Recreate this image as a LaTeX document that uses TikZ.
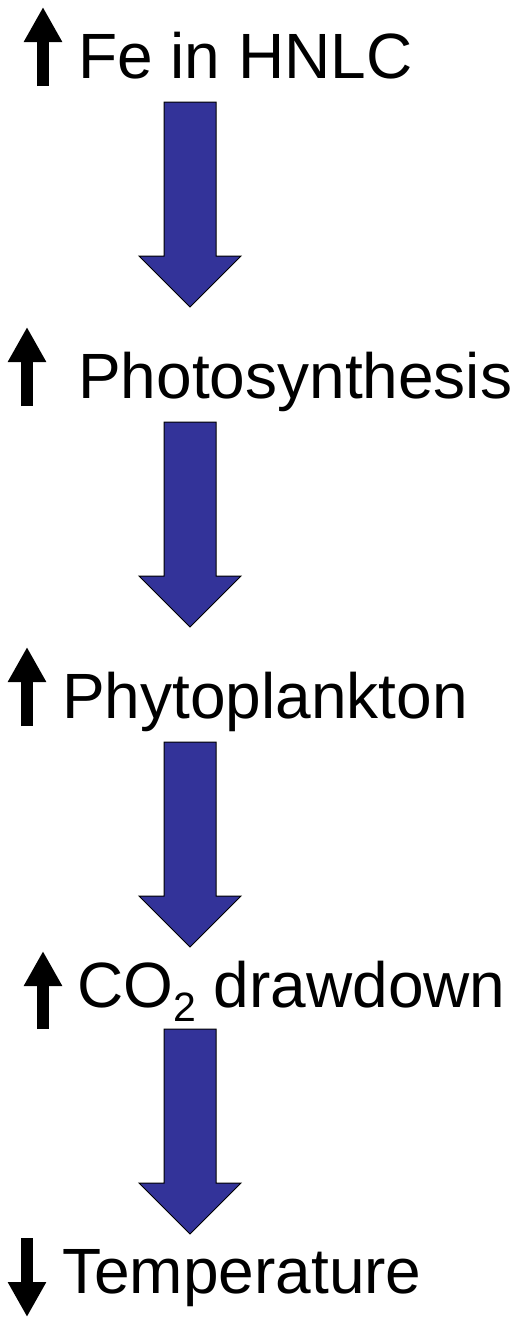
\documentclass[tikz,border=0pt]{standalone}
\usepackage{fontspec}
\setmainfont{Liberation Sans}
\usetikzlibrary{arrows.meta}
\definecolor{flowblue}{RGB}{51,51,153}

\begin{document}
\begin{tikzpicture}[x=1pt, y=-1pt,
        step label/.style={anchor=base west, inner sep=0pt, font=\fontsize{64}{76}\selectfont},
        trend/.style={line width=12pt, -{Triangle[width=36pt, length=35pt]}},
        flow/.style={fill=flowblue, draw=black, line width=1pt, line join=miter},
        flow arrow/.pic={\draw[flow] (-26,0) -- (26,0) -- (26,154) -- (51,154) -- (0,205) -- (-51,154) -- (-26,154) -- cycle;}]
            \useasboundingbox (0,0) rectangle (514,1317);

            \node[step label] (fe) at (78,78) {Fe in HNLC};
            \node[step label] (photo) at (78,398) {Photosynthesis};
            \node[step label] (phyto) at (62,718) {Phytoplankton};
            \node[step label] (co2) at (77,1007) {CO\raisebox{-14pt}{\fontsize{41}{41}\selectfont 2} drawdown};
            \node[step label] (temp) at (62,1293) {Temperature};

            \draw[trend] (43,86) -- (43,7);
            \draw[trend] (27,406) -- (27,327);
            \draw[trend] (27,726) -- (27,647);
            \draw[trend] (43,1029) -- (43,951);
            \draw[trend] (27,1238) -- (27,1317);

            \pic at (190,102) {flow arrow};
            \pic at (190,422) {flow arrow};
            \pic at (190,742) {flow arrow};
            \pic at (190,1029) {flow arrow};
        \end{tikzpicture}
\end{document}
